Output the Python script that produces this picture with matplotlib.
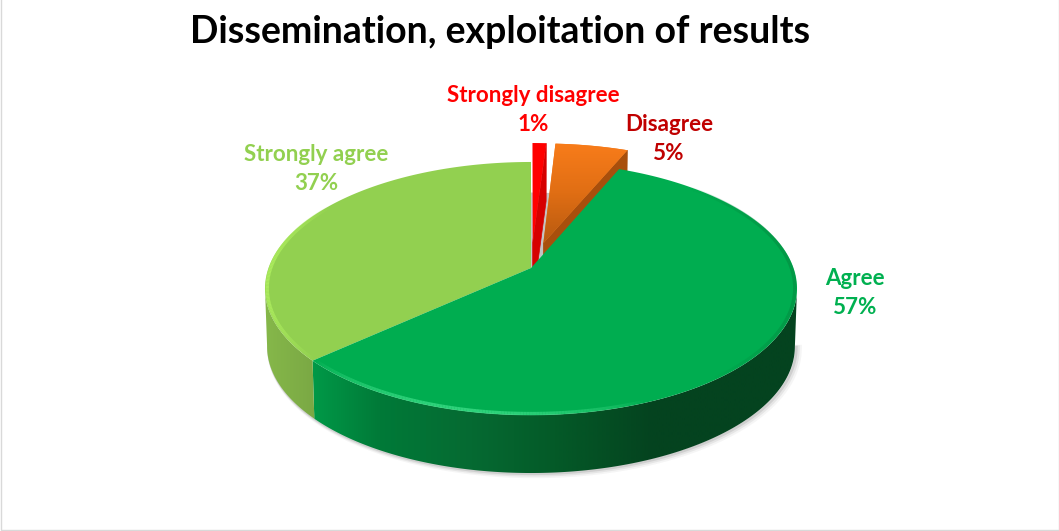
import numpy as np
import matplotlib
matplotlib.use("Agg")
import matplotlib.pyplot as plt
from matplotlib.collections import LineCollection
from matplotlib.colors import LinearSegmentedColormap, to_rgb
from matplotlib.patches import Polygon, Rectangle

labels = ["Strongly disagree", "Disagree", "Agree", "Strongly agree"]
values = [1.0, 5.3, 57.0, 36.7]
exploded = [0.214, 0.214, 0, 0]
labelColors = ["#ff0000", "#c00000", "#00b050", "#92d050"]
labelPos = [(533, 110), (669, 139), (855, 293), (316, 169)]
title = "Dissemination, exploitation of results"

topColors = ["#ff0000", "#f47a18", "#00ad50", "#92d050"]
sideColors = ["#d60000", "#a84f0c", "#04431f", "#7fae45"]

# pie plane -> screen, the back of the pie is further away so it shrinks
cx, cy = 531, 268
A, C, K = 262.5, 123.2, 0.162
DEPTH = 58


def project(u, v, drop=0.0):
    w = 1 + K * v
    x = cx + A * u / w * (1 - 0.008 * drop)
    y = cy - C * v / w + DEPTH * drop
    return x, y


def rimPoints(start, end, off, drop=0.0, r=1.0, n=160):
    th = np.radians(np.linspace(start, end, n))
    return project(off[0] + r * np.sin(th), off[1] + r * np.cos(th), drop)


def drawSide(ax, start, end, cmap, xlo, xhi, z):
    # outer wall: a horizontal gradient clipped to the wall outline
    x0, y0 = rimPoints(start, end, (0, 0), 0)
    x1, y1 = rimPoints(start, end, (0, 0), 1)
    wall = Polygon(np.column_stack([np.r_[x0, x1[::-1]], np.r_[y0, y1[::-1]]]),
                   fc="none", ec="none", zorder=z)
    ax.add_patch(wall)
    im = ax.imshow(np.linspace(0, 1, 256).reshape(1, -1), cmap=cmap, aspect="auto",
                   extent=(xlo, xhi, 531, 0), zorder=z, interpolation="bilinear")
    im.set_clip_path(wall)


def drawBevel(ax, start, end, color, peak, width, z):
    x, y = rimPoints(start, end, (0, 0), 0, r=0.992, n=120)
    seg = [[(x[i], y[i]), (x[i + 1], y[i + 1])] for i in range(len(x) - 1)]
    rgb = to_rgb(color)
    fade = np.sin(np.linspace(0, np.pi, len(seg))) ** 0.8 * peak
    ax.add_collection(LineCollection(seg, colors=[(*rgb, a) for a in fade],
                                     linewidths=width, zorder=z))


fig = plt.figure(figsize=(10.59, 5.31), dpi=100)
ax = fig.add_axes([0, 0, 1, 1])

ax.add_patch(Rectangle((0.5, -2), 1058, 532, fill=False, ec="#d9d9d9", lw=1, zorder=0))

# angles, clockwise from 12 o'clock
edges = np.concatenate([[0], np.cumsum(values)]) * 3.6
offsets = []
for i in range(len(values)):
    mid = np.radians((edges[i] + edges[i + 1]) / 2)
    offsets.append((exploded[i] * np.sin(mid), exploded[i] * np.cos(mid)))

# where the wall silhouette leaves the rim, left and right
sil = np.degrees(np.arcsin(K))

# soft shadow below the pie
sx, sy = rimPoints(90 + sil, 270 - sil, (0, 0), 1, r=1.0, n=200)
for grow, alpha in [(5, 0.06), (3.5, 0.1), (2, 0.16)]:
    ax.plot(sx + grow * 0.7, sy + grow * 0.35, color="#606060", alpha=alpha, lw=grow, zorder=1)

# grey shadow in the gap behind the two small slices
gx, gy = rimPoints(edges[0], edges[2], (0, 0), 0, r=0.68)
ax.add_patch(Polygon(np.column_stack([np.r_[cx, gx], np.r_[cy, gy]]), fc="#c4c4c4", ec="none", zorder=1))

# the two exploded slices
for i in [1, 0]:
    off = offsets[i]
    x, y = rimPoints(edges[i], edges[i + 1], off)
    ax0, ay0 = project(off[0], off[1])
    ax1, ay1 = project(off[0], off[1], 1)
    xe2, ye2 = rimPoints(edges[i + 1], edges[i + 1], off, 1, n=1)
    ax.add_patch(Polygon([(ax0, ay0), (x[-1], y[-1]), (xe2[0], ye2[0]), (ax1, ay1)],
                         fc=sideColors[i], ec=sideColors[i], lw=0.5, zorder=2 + i))
    top = Polygon(np.column_stack([np.r_[ax0, x], np.r_[ay0, y]]), fc=topColors[i], ec="none", zorder=3 + i)
    ax.add_patch(top)
    if i == 1:
        grad = LinearSegmentedColormap.from_list("o", ["#f87c1a", "#e06e14", "#b85a10"])
        im = ax.imshow(np.linspace(0, 1, 100).reshape(-1, 1), cmap=grad, aspect="auto",
                       extent=(x.min() - 15, x.max() + 2, ay0, y.min()), zorder=3 + i)
        im.set_clip_path(top)

# big slices: walls first, then the tops
greenWall = LinearSegmentedColormap.from_list("g", [
    (0.0, "#009a48"), (0.14, "#007a38"), (0.33, "#066a32"),
    (0.5, "#045a28"), (0.7, "#04431f"), (1.0, "#04431f")])
limeWall = LinearSegmentedColormap.from_list("l", ["#86b84a", "#7aa844"])
drawSide(ax, 90 + sil, edges[3], greenWall, 310, 800, 5)
drawSide(ax, edges[3], 270 - sil, limeWall, 264, 316, 5)

for i in [3, 2]:
    x, y = rimPoints(edges[i], edges[i + 1], offsets[i])
    ax.add_patch(Polygon(np.column_stack([np.r_[cx, x], np.r_[cy, y]]),
                         fc=topColors[i], ec="none", zorder=6 + (i == 2)))

drawBevel(ax, edges[3], edges[3] + 75, "#b0f060", 0.85, 2.5, 8)
drawBevel(ax, edges[3] - 70, edges[3], "#3fe08a", 0.75, 2.5, 8)
drawBevel(ax, edges[2] + 20, edges[2] + 120, "#048a40", 0.6, 2.5, 8)

for i in range(len(labels)):
    ax.text(labelPos[i][0], labelPos[i][1], f"{labels[i]}\n{round(values[i])}%", color=labelColors[i],
            family="Lato", weight="bold", fontsize=16.1, ha="center", va="center",
            linespacing=1.5, zorder=10)

ax.text(500.5, 32, title, family="Lato", weight="bold", fontsize=27, ha="center", va="center", color="black")

ax.set_xlim(0, 1059)
ax.set_ylim(531, 0)
ax.axis("off")

fig.savefig("out.png", dpi=100, facecolor="white")
